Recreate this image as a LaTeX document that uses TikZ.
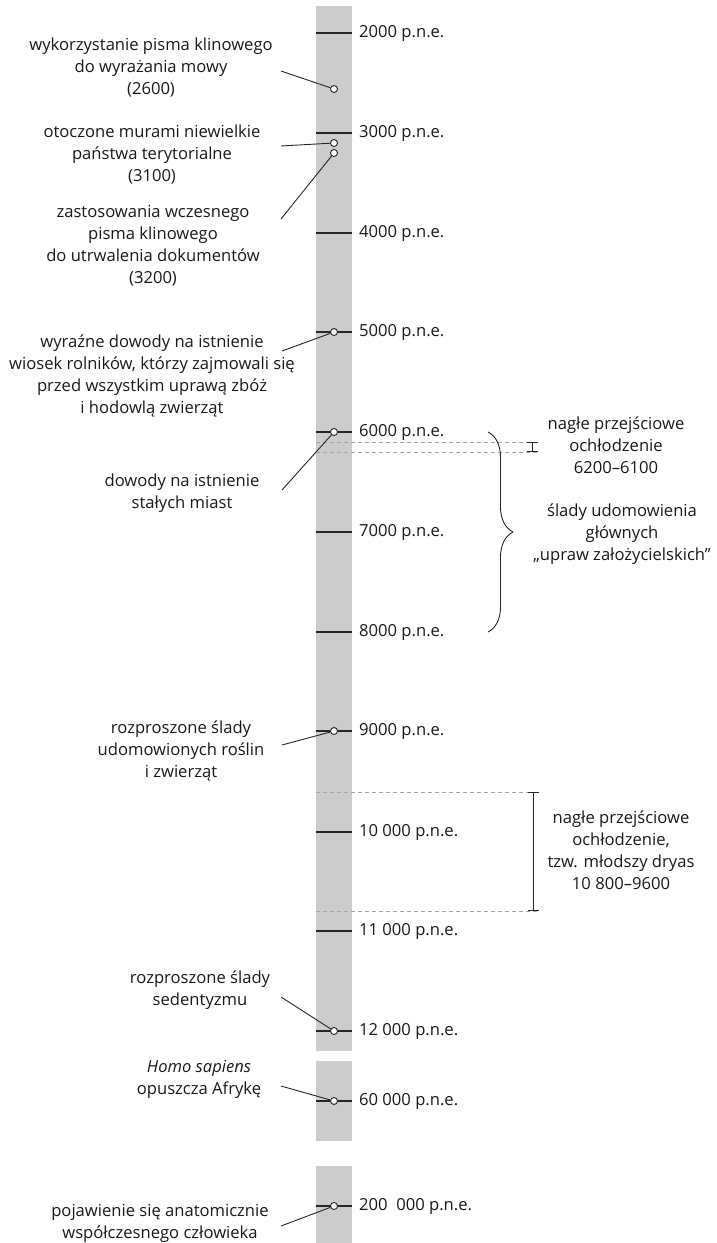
\documentclass[tikz,border=0pt]{standalone}
\usepackage{fontspec}
\setmainfont{Open Sans}
\usetikzlibrary{arrows.meta,decorations.pathreplacing}

\begin{document}
\begin{tikzpicture}[x=1pt, y=-1pt, line join=round, font=\fontsize{16.6}{22}\selectfont]
	\tikzset{
		pasek/.style={fill=black!20, draw=none},
		kreska/.style={draw=black!85, line width=1.2pt},
		punkt/.style={circle, draw=black!85, fill=white, line width=0.9pt, inner sep=0pt, minimum size=7pt},
		opis/.style={align=center, text=black!90, inner sep=0pt},
		data/.style={anchor=west, text=black!90, inner sep=0pt},
		laczy/.style={draw=black!85, line width=0.9pt},
		przerywana/.style={draw=black!35, dash pattern=on 4pt off 3pt, line width=0.8pt},
		zakres/.style={draw=black!85, line width=1pt, {Bar[width=11pt]}-{Bar[width=11pt]}},
	}
	\useasboundingbox (0,0) rectangle (716,1243);
	%Pasek osi czasu
	\fill[pasek] (316,6) rectangle (352,1051);
	\fill[pasek] (316,1061) rectangle (352,1141);
	\fill[pasek] (316,1166) rectangle (352,1243);
	%Okresy ochłodzenia
	\draw[przerywana] (316,442)--(537,442) (316,452)--(537,452);
	\draw[przerywana] (316,792)--(537,792) (316,911)--(537,911);
	\draw[zakres] (532,442)--(532,452);
	\draw[zakres] (533,792)--(533,911);
	\draw[decorate, decoration={brace, amplitude=25pt}, draw=black!85, line width=0.9pt] (488,432)--(488,632);
	%Kreski i daty
	\foreach \y/\t/\n in {33/2000/d2, 133/3000/d3, 233/4000/d4, 332/5000/d5, 432/6000/d6, 532/7000/d7, 632/8000/d8, 731/9000/d9, 832/10 000/d10, 931/11 000/d11, 1031/12 000/d12, 1101/60 000/d60, 1206/200~ 000/d200}
	{
		\draw[kreska] (316,\y)--(352,\y);
		\node[data] (\n) at (359,\y) {\t\ p.n.e.};
	}
	%Zdarzenia
	\node[punkt] (e2600) at (334,89) {};
	\node[punkt] (e3100) at (334,143) {};
	\node[punkt] (e3200) at (334,153) {};
	\node[punkt] (e5000) at (334,332) {};
	\node[punkt] (e6000) at (334,432) {};
	\node[punkt] (e9000) at (334,731) {};
	\node[punkt] (e12000) at (334,1031) {};
	\node[punkt] (e60000) at (334,1101) {};
	\node[punkt] (e200000) at (334,1206) {};
	%Opisy po lewej
	\node[opis] (o2600) at (151,68) {wykorzystanie pisma klinowego\\do wyrażania mowy\\(2600)};
	\node[opis] (o3100) at (152,155) {otoczone murami niewielkie\\państwa terytorialne\\(3100)};
	\node[opis] (o3200) at (153,246) {zastosowania wczesnego\\pisma klinowego\\do utrwalenia dokumentów\\(3200)};
	\node[opis] (o5000) at (152,376) {wyraźne dowody na istnienie\\wiosek rolników, którzy zajmowali się\\przed wszystkim uprawą zbóż\\i hodowlą zwierząt};
	\node[opis] (o6000) at (182,493) {dowody na istnienie\\stałych miast};
	\node[opis] (o9000) at (181,751) {rozproszone ślady\\udomowionych roślin\\i zwierząt};
	\node[opis] (o12000) at (200,990) {rozproszone ślady\\sedentyzmu};
	\node[opis] (o60000) at (199,1079) {\textit{Homo sapiens}\\opuszcza Afrykę};
	\node[opis] (o200000) at (160,1223) {pojawienie się anatomicznie\\współczesnego człowieka};
	%Opisy po prawej
	\node[opis] (p6200) at (616,445) {nagłe przejściowe\\ochłodzenie\\6200--6100};
	\node[opis] (pupraw) at (622,534) {ślady udomowienia\\głównych\\„upraw założycielskich”};
	\node[opis] (pdryas) at (621,850) {nagłe przejściowe\\ochłodzenie,\\tzw. młodszy dryas\\10 800--9600};
	%Linie łączące
	\coordinate (k2600) at (281,71);
	\coordinate (k3100) at (281,146);
	\coordinate (k3200) at (281,219);
	\coordinate (k5000) at (282,351);
	\coordinate (k6000) at (282,490);
	\coordinate (k9000) at (282,745);
	\coordinate (k12000) at (281,997);
	\coordinate (k60000) at (281,1086);
	\coordinate (k200000) at (281,1226);
	\foreach \e in {2600,3100,3200,5000,6000,9000,12000,60000,200000}
		\draw[laczy] (k\e)--(e\e);
\end{tikzpicture}
\end{document}
